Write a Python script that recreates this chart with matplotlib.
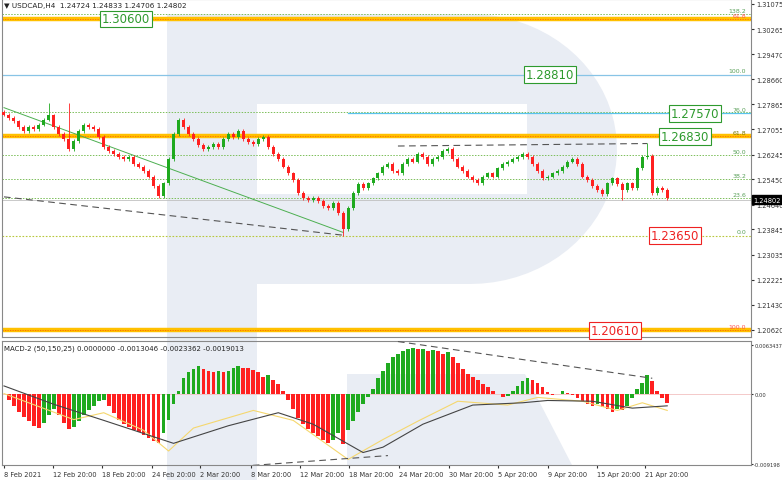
import matplotlib
matplotlib.use("Agg")
import matplotlib.pyplot as plt
from matplotlib.patches import Rectangle, Polygon
import numpy as np

closes = [1.2753,1.2743,1.2731,1.2712,1.2699,1.2712,1.2706,1.2721,1.2737,1.2750,
          1.2712,1.2690,1.2674,1.2642,1.2668,1.2699,1.2721,1.2712,1.2706,1.2680,
          1.2649,1.2636,1.2627,1.2617,1.2611,1.2617,1.2595,1.2586,1.2573,1.2554,
          1.2523,1.2491,1.2532,1.2611,1.2690,1.2737,1.2712,1.2690,1.2674,1.2655,
          1.2642,1.2649,1.2658,1.2649,1.2674,1.2690,1.2680,1.2699,1.2674,1.2665,
          1.2658,1.2674,1.2680,1.2649,1.2627,1.2611,1.2586,1.2564,1.2542,1.2501,
          1.2485,1.2479,1.2485,1.2476,1.2460,1.2454,1.2469,1.2438,1.2385,1.2454,
          1.2501,1.2529,1.2517,1.2532,1.2548,1.2564,1.2586,1.2595,1.2573,1.2564,
          1.2595,1.2611,1.2602,1.2627,1.2617,1.2595,1.2611,1.2617,1.2636,1.2642,
          1.2611,1.2586,1.2573,1.2554,1.2542,1.2532,1.2554,1.2564,1.2554,1.2580,
          1.2595,1.2602,1.2611,1.2617,1.2627,1.2617,1.2595,1.2573,1.2548,1.2554,
          1.2564,1.2573,1.2586,1.2602,1.2611,1.2595,1.2554,1.2542,1.2523,1.2510,
          1.2498,1.2532,1.2548,1.2529,1.2510,1.2532,1.2517,1.2580,1.2617,1.2620,
          1.2501,1.2517,1.2510,1.2485]
opens = [1.2760] + closes[:-1]
extra_low = {68: 1.2365, 124: 1.2478}
extra_high = {129: 1.2662, 13: 1.2790, 9: 1.2790}

macd_hist = [0,-8,-16,-24,-30,-36,-42,-45,-38,-28,-20,-28,-38,-46,-44,-36,-28,-22,-16,-10,
             -8,-16,-26,-34,-40,-44,-48,-50,-54,-58,-62,-64,-52,-34,-14,4,20,28,32,36,
             32,30,28,30,28,30,34,36,34,33,31,28,22,24,18,12,4,-8,-20,-32,
             -40,-46,-52,-56,-60,-64,-60,-52,-66,-48,-36,-24,-14,-4,6,20,30,40,48,52,
             56,58,60,58,58,56,57,55,52,54,48,40,32,26,22,18,12,8,4,0,
             -4,-3,4,10,16,20,18,14,8,2,-2,0,3,1,-2,-6,-10,-14,-16,-14,
             -18,-20,-24,-20,-22,-16,-6,6,14,24,16,4,-6,-12]
sig_idx = [0,14,20,28,33,38,50,58,69,76,83,91,101,107,116,123,128,133]
sig_val = [0,-34,-25,-48,-75,-45,-22,-35,-86,-60,-36,-10,-15,-5,-10,-22,-12,-22]
blk_idx = [0,10,20,34,45,55,62,72,76,84,94,104,109,118,126,133]
blk_val = [10,-14,-35,-65,-42,-25,-40,-77,-70,-40,-15,-12,-9,-10,-19,-16]

price_ticks = [1.31075,1.30265,1.29470,1.28660,1.27865,1.27055,1.26245,1.25450,
               1.24640,1.23845,1.23035,1.22225,1.21430,1.20620]
date_pos = [0,9.8,19.6,29.6,39.4,49.6,59.4,69.2,79.2,89.2,99,109,119,128.6]
date_labels = ["8 Feb 2021","12 Feb 20:00","18 Feb 20:00","24 Feb 20:00","2 Mar 20:00",
               "8 Mar 20:00","12 Mar 20:00","18 Mar 20:00","24 Mar 20:00","30 Mar 20:00",
               "5 Apr 20:00","9 Apr 20:00","15 Apr 20:00","21 Apr 20:00"]

W, H = 782, 481
fig = plt.figure(figsize=(W/100, H/100), dpi=100)
bg = fig.add_axes([0, 0, 1, 1], zorder=0)
bg.set_xlim(0, W); bg.set_ylim(H, 0); bg.axis("off")
wm = "#e9edf4"
t = np.linspace(-np.pi/2, np.pi/2, 40)
bowl = [(167, 15)] + [(470 + 147*np.cos(a), 150 - 135*np.sin(a)) for a in t[::-1]] + [(167, 285)]
bg.add_patch(Polygon(bowl, closed=True, color=wm, lw=0))
bg.add_patch(Rectangle((167, 15), 90, 466, color=wm, lw=0))
bg.add_patch(Rectangle((257, 105), 270, 90, color="white", lw=0))
bg.add_patch(Polygon([(347, 375), (525, 375), (572, 466), (347, 466)], color=wm, lw=0))

L, R = 2/W, 751/W
ax = fig.add_axes([L, 1-338/H, R-L, 338/H], zorder=1)
mx = fig.add_axes([L, 1-466/H, R-L, 124/H], zorder=1)
for a in (ax, mx):
    a.patch.set_alpha(0)
    a.set_xlim(-0.4, 149.8)
    a.yaxis.tick_right()
    a.tick_params(axis="y", labelsize=4.8, length=2, pad=1.5, colors="#333333")
    for s in a.spines.values():
        s.set_color("#888888"); s.set_linewidth(0.8)
ax.set_ylim(1.20395, 1.31235)
ax.set_yticks(price_ticks)
ax.set_yticklabels([f"{v:.5f}" for v in price_ticks])
ax.set_xticks([])
mx.set_ylim(-0.00933, 0.00687)
mx.set_yticks([0.0063437, 0, -0.009198])
mx.set_yticklabels(["0.0063437", "0.00", "-0.009198"])
mx.tick_params(axis="y", labelsize=3.7, pad=0.8, length=1.5)
mx.set_xticks(date_pos)
mx.set_xticklabels(date_labels, ha="left", fontsize=4.8)
mx.tick_params(axis="x", length=2, pad=2, colors="#333333")

n = len(closes)
xs = np.arange(n)
green, red = "#1faa1f", "#ff2020"
for i in range(n):
    o, c = opens[i], closes[i]
    col = green if c >= o else red
    hi = extra_high.get(i, max(o, c) + 0.0006)
    lo = extra_low.get(i, min(o, c) - 0.0006)
    ax.vlines(i, lo, hi, color=col, lw=0.6, zorder=3)
    ax.add_patch(Rectangle((i-0.3, min(o, c)), 0.6, max(abs(c-o), 0.00015),
                           color=col, lw=0, zorder=3))

def hl(y, x0=-0.4, **kw):
    ax.plot([x0, 149.8], [y, y], **kw, zorder=2)
dot = dict(color="#7cbf5a", lw=0.7, ls=(0, (1.5, 1.5)))
hl(1.3075, **dot); hl(1.2760, **dot); hl(1.2624, **dot); hl(1.2545, **dot)
hl(1.2485, **dot)
hl(1.2480, color="#c0c0c0", lw=0.6)
hl(1.2365, color="#b8c83c", lw=0.8, ls=(0, (1.5, 1.5)))
for y in (1.3060, 1.2683, 1.2061):
    hl(y, color="#ffc000", lw=3.2)
    hl(y, color="#ff6a00", lw=0.6, ls=(0, (1.5, 1.5)))
hl(1.2881, color="#88c4e6", lw=0.9)
hl(1.2757, x0=69, color="#59c3ee", lw=0.9)

ax.plot([0, 68], [1.2775, 1.2375], color="#4caf50", lw=0.7, zorder=2)
ax.plot([0, 68], [1.2489, 1.2366], color="#555555", lw=0.8, ls=(0, (6, 4)), zorder=2)
ax.plot([79, 129], [1.2652, 1.2660], color="#555555", lw=0.8, ls=(0, (6, 4)), zorder=2)

boxes = [(1.3060, 24.5, "1.30600", "#2e9a2e"), (1.2881, 109.5, "1.28810", "#2e9a2e"),
         (1.2757, 138.5, "1.27570", "#2e9a2e"), (1.2683, 136.5, "1.26830", "#2e9a2e"),
         (1.2365, 134.5, "1.23650", "#ee2222"), (1.2061, 122.5, "1.20610", "#ee2222")]
for y, xc, s, c in boxes:
    ax.text(xc, y, s, color=c, fontsize=8.5, ha="center", va="center", zorder=5,
            bbox=dict(boxstyle="square,pad=0.15", fc="white", ec=c, lw=0.8))
fibs = [(1.3075, "138.2", "#5aa05a"), (1.3060, "61.8", "#ff5050"), (1.2881, "100.0", "#5aa05a"),
        (1.2757, "76.0", "#5aa05a"), (1.2683, "61.8", "#777700"), (1.2624, "50.0", "#5aa05a"),
        (1.2545, "38.2", "#5aa05a"), (1.2485, "23.6", "#5aa05a"), (1.2365, "0.0", "#5aa05a"),
        (1.2061, "100.0", "#ff5050")]
for y, s, c in fibs:
    ax.text(148.8, y + 0.0004, s, color=c, fontsize=4.5, ha="right", va="bottom", zorder=4)
ax.text(1.003, 1.2480, "1.24802", transform=ax.get_yaxis_transform(), fontsize=4.8,
        color="white", va="center", ha="left", zorder=6,
        bbox=dict(boxstyle="square,pad=0.2", fc="black", ec="black"))
ax.text(0.003, 0.99, "\u25bc USDCAD,H4  1.24724 1.24833 1.24706 1.24802",
        transform=ax.transAxes, fontsize=5.2, va="top", color="#222222", zorder=6)

hist = np.array(macd_hist) * 1e-4
cols = [green if (i == 0 or hist[i] >= hist[i-1]) else red for i in range(n)]
mx.bar(xs, hist, width=0.75, color=cols, lw=0, zorder=3)
mx.axhline(0, color="#f3c0c0", lw=0.6, zorder=2)
mx.plot(sig_idx, np.array(sig_val)*1e-4, color="#f5d76e", lw=0.8, zorder=4)
mx.plot(blk_idx, np.array(blk_val)*1e-4, color="#444444", lw=0.8, zorder=4)
mx.plot([79, 130], [0.0068, 0.0020], color="#555555", lw=0.8, ls=(0, (6, 4)), zorder=4)
mx.plot([41, 77], [-0.0098, -0.0081], color="#555555", lw=0.8, ls=(0, (6, 4)), zorder=4)
mx.text(0.003, 0.97, "MACD-2 (50,150,25) 0.0000000 -0.0013046 -0.0023362 -0.0019013",
        transform=mx.transAxes, fontsize=5, va="top", color="#222222", zorder=6)

fig.savefig("out.png", dpi=100)
